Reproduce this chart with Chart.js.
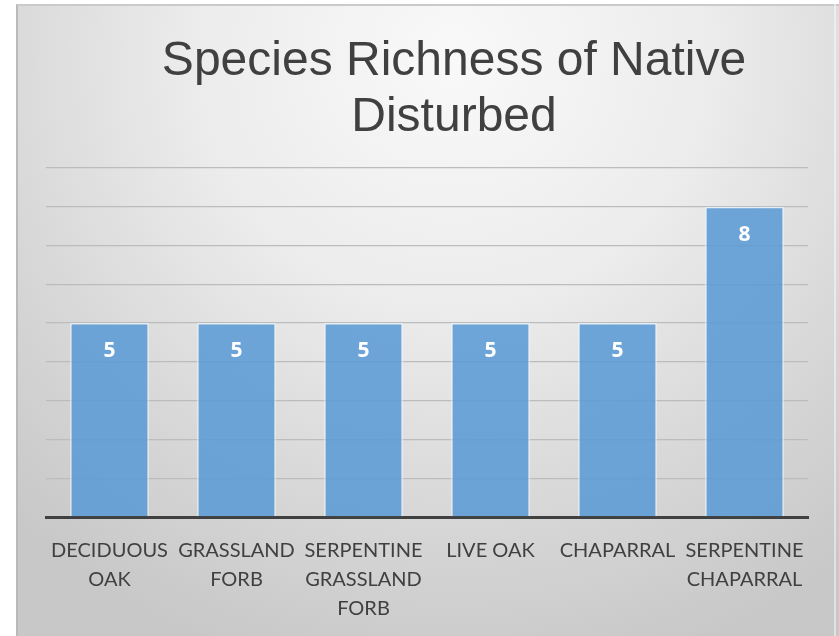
<!DOCTYPE html>
<html>
<head>
<meta charset="utf-8">
<script src="https://cdn.jsdelivr.net/npm/chart.js@4.4.1/dist/chart.umd.min.js"></script>
<style>
  html, body { margin: 0; padding: 0; background: #ffffff; }
  #frame {
    position: absolute; left: 16px; top: 4px; width: 823px; height: 632px;
    background: radial-gradient(ellipse 78% 100% at 53% 8%, #f9f9f9 0%, #ececec 40%, #d6d6d6 75%, #c8c8c8 100%);
    border-left: 2px solid #b9b9b9; border-top: 2px solid #cacaca;
    box-sizing: border-box;
  }
  #edge { position: absolute; left: 834px; top: 4px; width: 2px; height: 632px; background: rgba(255,255,255,0.45); }
  #wrap { position: absolute; left: 0; top: 0; width: 839px; height: 636px; }
</style>
</head>
<body>
<div id="frame"></div>
<div id="edge"></div>
<div id="wrap"><canvas id="chart" width="839" height="636"></canvas></div>
<script>
// Species richness of native plants in disturbed plots, by habitat
const categories = [
  ['DECIDUOUS', 'OAK'],
  ['GRASSLAND', 'FORB'],
  ['SERPENTINE', 'GRASSLAND', 'FORB'],
  ['LIVE OAK'],
  ['CHAPARRAL'],
  ['SERPENTINE', 'CHAPARRAL']
];
const richness = [5, 5, 5, 5, 5, 8];
const titleLines = ['Species Richness of Native', 'Disturbed'];
const yMin = 0;
const yMax = 9;
const yStep = 1;

// Two-line chart title, drawn above the plot
const titlePlugin = {
  id: 'titleLines',
  afterDraw(chart) {
    const ctx = chart.ctx;
    ctx.save();
    ctx.fillStyle = '#404040';
    ctx.font = '48px "Liberation Sans", Arial, sans-serif';
    ctx.textAlign = 'center';
    ctx.textBaseline = 'alphabetic';
    titleLines.forEach((line, i) => ctx.fillText(line, 454, 75 + i * 56));
    ctx.restore();
  }
};

// White value labels inside the top of each bar
const valueLabels = {
  id: 'valueLabels',
  afterDatasetsDraw(chart) {
    const ctx = chart.ctx;
    const meta = chart.getDatasetMeta(0);
    ctx.save();
    ctx.fillStyle = '#ffffff';
    ctx.font = 'bold 21px "Open Sans", Lato, sans-serif';
    ctx.textAlign = 'center';
    ctx.textBaseline = 'middle';
    meta.data.forEach((bar, i) => {
      ctx.fillText(String(richness[i]), bar.x, bar.y + 28);
    });
    ctx.restore();
  }
};

new Chart(document.getElementById('chart'), {
  type: 'bar',
  data: {
    labels: categories,
    datasets: [{
      data: richness,
      backgroundColor: 'rgba(91,155,213,0.88)',
      borderColor: 'rgba(235,244,252,0.75)',
      borderWidth: 1.5,
      categoryPercentage: 0.62,
      barPercentage: 1.0
    }]
  },
  options: {
    responsive: false,
    animation: false,
    layout: { padding: { left: 46, right: 31, top: 168, bottom: 0 } },
    plugins: {
      legend: { display: false },
      title: { display: false },
      tooltip: { enabled: false }
    },
    scales: {
      x: {
        grid: { display: false },
        border: { display: true, color: '#404040', width: 3 },
        ticks: {
          color: '#404040',
          font: { family: 'Lato, "Open Sans", sans-serif', size: 20, lineHeight: 1.45 },
          padding: 11,
          maxRotation: 0,
          autoSkip: false
        },
        afterFit(axis) { axis.height = 119; }
      },
      y: {
        min: yMin,
        max: yMax,
        ticks: { stepSize: yStep, display: false },
        border: { display: false },
        grid: {
          color: (c) => (c.tick && c.tick.value === 0 ? 'rgba(0,0,0,0)' : '#bcbcbc'),
          lineWidth: 1.3,
          drawTicks: false
        },
        afterFit(axis) { axis.width = 0; }
      }
    }
  },
  plugins: [titlePlugin, valueLabels]
});
</script>
</body>
</html>
